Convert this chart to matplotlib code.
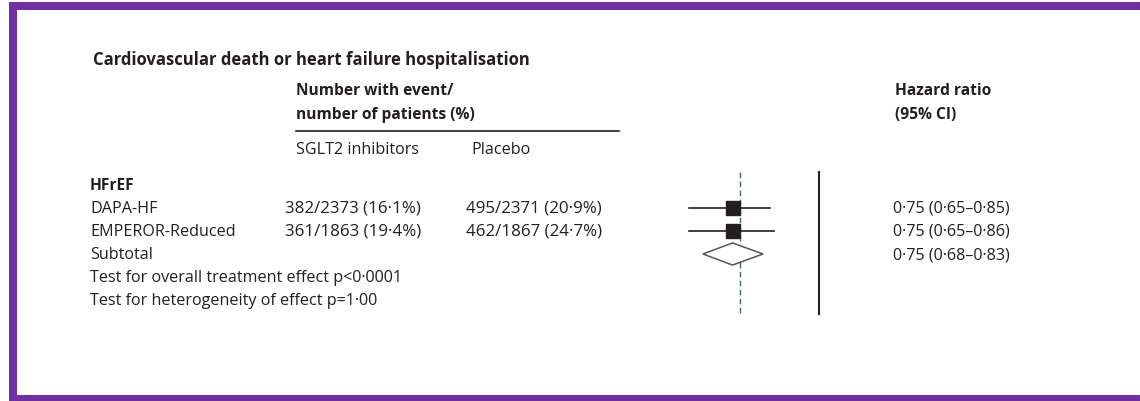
import matplotlib.pyplot as plt
from matplotlib.patches import Rectangle, Polygon

# trial rows
trials = ['DAPA-HF', 'EMPEROR-Reduced']
sglt2_events = ['382/2373 (16\u00b71%)', '361/1863 (19\u00b74%)']
placebo_events = ['495/2371 (20\u00b79%)', '462/1867 (24\u00b77%)']
hr = [0.75, 0.75]
hr_lo = [0.65, 0.65]
hr_hi = [0.85, 0.86]

# pooled estimate
sub_hr, sub_lo, sub_hi = 0.75, 0.68, 0.83
overall_hr = 0.77

p_overall = 'p<0\u00b70001'
p_het = 'p=1\u00b700'

FONT = ['Liberation Sans Narrow', 'Open Sans', 'DejaVu Sans']
INK = '#231f20'
PURPLE = '#7030a0'

plt.rcParams['font.family'] = FONT

W, H = 1140, 402
fig = plt.figure(figsize=(W / 100, H / 100), dpi=100)
ax = fig.add_axes([0, 0, 1, 1])
ax.set_xlim(0, W)
ax.set_ylim(H, 0)
ax.axis('off')

# frame
ax.add_patch(Rectangle((9, 3), 8, H - 3, color=PURPLE, lw=0))
ax.add_patch(Rectangle((9, 3), W - 9, 7.5, color=PURPLE, lw=0))
ax.add_patch(Rectangle((9, 396), W - 9, 6, color=PURPLE, lw=0))

fs = 11.6
fb = 11.2
ax.text(93, 60, 'Cardiovascular death or heart failure hospitalisation',
        fontsize=12, fontweight='bold', color=INK, va='center')
ax.text(296, 91, 'Number with event/', fontsize=fb, fontweight='bold', color=INK, va='center')
ax.text(296, 115, 'number of patients (%)', fontsize=fb, fontweight='bold', color=INK, va='center')
ax.plot([296, 619], [131.5, 131.5], color=INK, lw=1.2)
ax.text(296, 150, 'SGLT2 inhibitors', fontsize=fs, color=INK, va='center')
ax.text(471, 150, 'Placebo', fontsize=fs, color=INK, va='center')
ax.text(895, 91, 'Hazard ratio', fontsize=fb, fontweight='bold', color=INK, va='center')
ax.text(895, 115, '(95% CI)', fontsize=fb, fontweight='bold', color=INK, va='center')

row_top, row_h = 186, 23


def row_y(i):
    return row_top + i * row_h


def ci_label(est, lo, hi):
    return f'{est:.2f} ({lo:.2f}\u2013{hi:.2f})'.replace('.', '\u00b7')


ax.text(90, row_y(0), 'HFrEF', fontsize=fb, fontweight='bold', color=INK, va='center')
for i, name in enumerate(trials):
    y = row_y(i + 1)
    ax.text(90, y, name, fontsize=fs, color=INK, va='center')
    ax.text(285, y, sglt2_events[i], fontsize=12.2, color=INK, va='center')
    ax.text(466, y, placebo_events[i], fontsize=12.2, color=INK, va='center')
    ax.text(893, y, ci_label(hr[i], hr_lo[i], hr_hi[i]), fontsize=fs, color=INK, va='center')
ax.text(90, row_y(3), 'Subtotal', fontsize=fs, color=INK, va='center')
ax.text(893, row_y(3), ci_label(sub_hr, sub_lo, sub_hi), fontsize=fs, color=INK, va='center')
ax.text(90, row_y(4), 'Test for overall treatment effect ' + p_overall,
        fontsize=fs, color=INK, va='center')
ax.text(90, row_y(5), 'Test for heterogeneity of effect ' + p_het,
        fontsize=fs, color=INK, va='center')

# forest panel, log scale
fx = fig.add_axes([680 / W, 1 - 320 / H, 150 / W, 150 / H])
fx.set_xscale('log')
fx.set_xlim(0.6302, 1.0361)
fx.set_ylim((320 - row_top) / row_h, (170 - row_top) / row_h)
fx.axis('off')

fx.plot([overall_hr, overall_hr], [-0.57, 5.6], color='#4a6570', lw=1, ls=(0, (4, 2.5)))
fx.plot([1, 1], [-0.57, 5.6], color=INK, lw=1.5)

sq_size = [10.5, 10]
for i in range(len(trials)):
    fx.plot([hr_lo[i], hr_hi[i]], [i + 1, i + 1], color=INK, lw=1.2)
    fx.plot(hr[i], i + 1, marker='s', ms=sq_size[i], color=INK, mec=INK)

dh = 0.48
fx.add_patch(Polygon([(sub_lo, 3), (sub_hr, 3 - dh), (sub_hi, 3), (sub_hr, 3 + dh)],
                     closed=True, facecolor='white', edgecolor='#555555', lw=1.1, zorder=3))

fig.savefig('out.png', dpi=100)
